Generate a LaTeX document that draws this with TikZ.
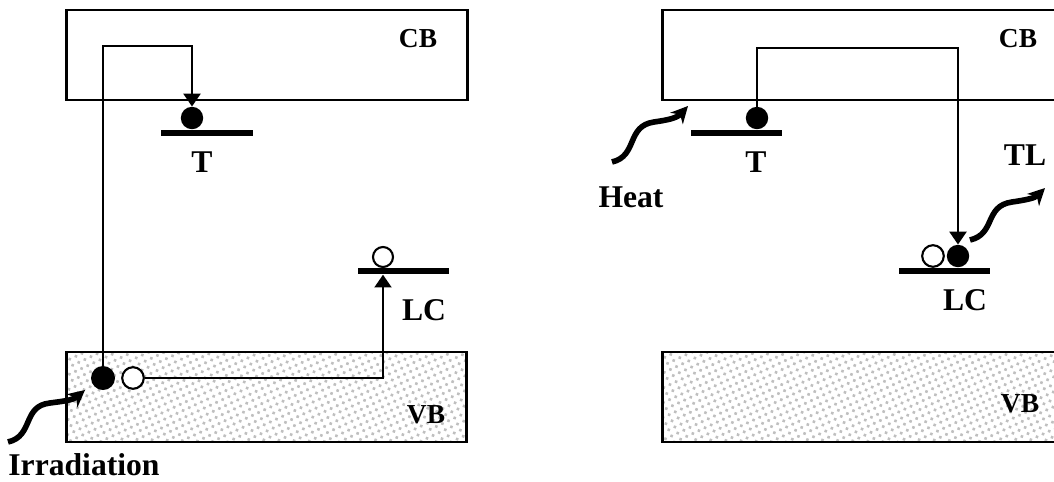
\documentclass[tikz,border=0pt]{standalone}
\usepackage{fontspec}
\setmainfont{Liberation Serif}
\usepackage{tikz}
\usetikzlibrary{arrows.meta,patterns.meta}
\tikzset{
  band/.style={rectangle, draw, line width=2.1pt, inner sep=0pt, minimum height=2.25cm},
  vband/.style={band, pattern={Dots[distance=4.8pt,radius=1.3pt,angle=25]}, pattern color=gray!50},
  level/.style={rectangle, fill=black, inner sep=0pt, minimum width=2.28cm, minimum height=0.17cm},
  elec/.style={circle, fill=black, inner sep=0pt, minimum size=0.56cm},
  hole/.style={circle, draw, fill=white, line width=1.5pt, inner sep=0pt, minimum size=0.5cm},
  trans/.style={line width=1.9pt, -{Triangle[length=0.32cm,width=0.42cm]}},
  wavy/.style={line width=4pt, -{Stealth[length=0.42cm,width=0.42cm,inset=0.13cm]}},
  blabel/.style={font=\fontsize{19.5}{22}\selectfont\bfseries, anchor=base, inner sep=0pt},
  slabel/.style={font=\fontsize{22.5}{25}\selectfont\bfseries, anchor=base, inner sep=0pt},
}

\begin{document}
\begin{tikzpicture}[x=0.025cm, y=-0.025cm]
  \useasboundingbox (0,0) rectangle (1054,481);
  \clip (0,0) rectangle (1054,481);
  % Irradiation (left)
  \node[band, minimum width=10cm] (cbL) at (267,55) {};
  \node[vband, minimum width=9.975cm] (vbL) at (266.5,397) {};
  \node[blabel] (cbLt) at (418,47) {CB};
  \node[blabel] (vbLt) at (426,423) {VB};
  \node[level] (tL) at (207,133) {};
  \node[level] (lcL) at (403.5,271) {};
  \node[slabel] (tLt) at (202,172) {T};
  \node[slabel] (lcLt) at (424,320) {LC};
  \node[elec] (eT) at (192,118) {};
  \node[hole] (hLC) at (383,257) {};
  \node[elec, minimum size=0.6cm] (eVB) at (103,378) {};
  \node[hole, minimum size=0.54cm] (hVB) at (133,378) {};
  \coordinate (topL) at (0,46);
  \draw[trans] (eVB.north) |- (eT |- topL) -- (eT.north);
  \draw[trans] (hVB.east) -| (hLC |- lcL.south);
  \coordinate (irrS) at (8,442);
  \coordinate (irrE) at (85,390);
  \draw[wavy] (irrS) .. controls (34,436) and (22,406) .. (50,403)
    .. controls (65,401) and (73,400) .. (irrE);
  \node[slabel] (irrt) at (84,475) {Irradiation};
  % Heating (right)
  \node[band, minimum width=10.425cm] (cbR) at (871.5,55) {};
  \node[vband, minimum width=10.425cm] (vbR) at (871.5,397) {};
  \node[blabel] (cbRt) at (1018,47) {CB};
  \node[blabel] (vbRt) at (1020,412) {VB};
  \node[level] (tR) at (736.5,133) {};
  \node[level] (lcR) at (944.5,271) {};
  \node[slabel] (tRt) at (756,172) {T};
  \node[slabel] (lcRt) at (965,310) {LC};
  \node[slabel] (tlt) at (1025,165) {TL};
  \node[slabel] (heatt) at (631,207) {Heat};
  \node[elec] (eT2) at (757,118) {};
  \node[hole, minimum size=0.54cm] (hLC2) at (933,256) {};
  \node[elec] (eLC2) at (958,256) {};
  \coordinate (topR) at (0,48);
  \draw[trans] (eT2.north) |- (eLC2 |- topR) -- (eLC2.north);
  \coordinate (heatS) at (612,162);
  \coordinate (heatE) at (688,106);
  \draw[wavy] (heatS) .. controls (638,156) and (626,126) .. (654,122)
    .. controls (668,120) and (677,118) .. (heatE);
  \coordinate (tlS) at (970,240);
  \coordinate (tlE) at (1045,188);
  \draw[wavy] (tlS) .. controls (996,234) and (984,206) .. (1012,202)
    .. controls (1026,200) and (1035,198) .. (tlE);
\end{tikzpicture}
\end{document}
